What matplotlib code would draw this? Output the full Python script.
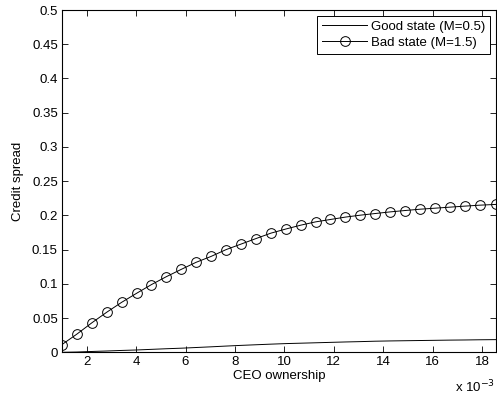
import matplotlib
matplotlib.use('Agg')
import matplotlib.pyplot as plt

# CEO ownership (x 10^-3)
ownership = [1.00, 1.60, 2.21, 2.81, 3.41, 4.02, 4.62, 5.22, 5.83, 6.43,
             7.03, 7.64, 8.24, 8.84, 9.45, 10.05, 10.66, 11.26, 11.86, 12.47,
             13.07, 13.67, 14.28, 14.88, 15.48, 16.09, 16.69, 17.29, 17.90, 18.55]

good_state = [0.0000, 0.0004, 0.0012, 0.0019, 0.0027, 0.0034, 0.0043, 0.0052, 0.0060, 0.0070,
              0.0080, 0.0091, 0.0101, 0.0110, 0.0119, 0.0127, 0.0133, 0.0139, 0.0145, 0.0151,
              0.0156, 0.0162, 0.0166, 0.0169, 0.0172, 0.0175, 0.0178, 0.0180, 0.0183, 0.0185]

bad_state = [0.0113, 0.0265, 0.0431, 0.0585, 0.0729, 0.0862, 0.0989, 0.1104, 0.1212, 0.1315,
             0.1400, 0.1500, 0.1580, 0.1660, 0.1740, 0.1800, 0.1857, 0.1905, 0.1940, 0.1975,
             0.2003, 0.2027, 0.2051, 0.2071, 0.2090, 0.2105, 0.2120, 0.2135, 0.2149, 0.2160]

plt.rcParams['font.family'] = ['Liberation Sans', 'DejaVu Sans']
plt.rcParams['font.size'] = 9.5

fig = plt.figure(figsize=(4.97, 3.97), dpi=100)
ax = fig.add_axes([0.1247, 0.1126, 0.8727, 0.8622])

ax.plot(ownership, good_state, color='black', lw=0.7, label='Good state (M=0.5)')
ax.plot(ownership, bad_state, color='black', lw=0.7, marker='o', markersize=7,
        markerfacecolor='none', markeredgewidth=0.7, label='Bad state (M=1.5)')

ax.set_xlim(1, 18.55)
ax.set_ylim(0, 0.5)
ax.set_xticks(range(2, 19, 2))
ax.set_yticks([0, 0.05, 0.1, 0.15, 0.2, 0.25, 0.3, 0.35, 0.4, 0.45, 0.5])
ax.set_yticklabels(['0', '0.05', '0.1', '0.15', '0.2', '0.25', '0.3', '0.35', '0.4', '0.45', '0.5'])
ax.tick_params(direction='in', top=True, right=True, length=4, width=0.6, pad=3)
for s in ax.spines.values():
    s.set_linewidth(0.8)

ax.set_xlabel('CEO ownership', labelpad=1)
ax.set_ylabel('Credit spread', labelpad=6)

fig.text(0.996, 0.012, r'x 10$^{-3}$', fontsize=9.5, ha='right')

leg = ax.legend(loc='upper right', fancybox=False, edgecolor='black', framealpha=1,
                borderaxespad=0.45, handlelength=3.4, handletextpad=0.3,
                borderpad=0.35, labelspacing=0.3)
leg.get_frame().set_linewidth(0.7)

fig.savefig('out.png', dpi=100)
